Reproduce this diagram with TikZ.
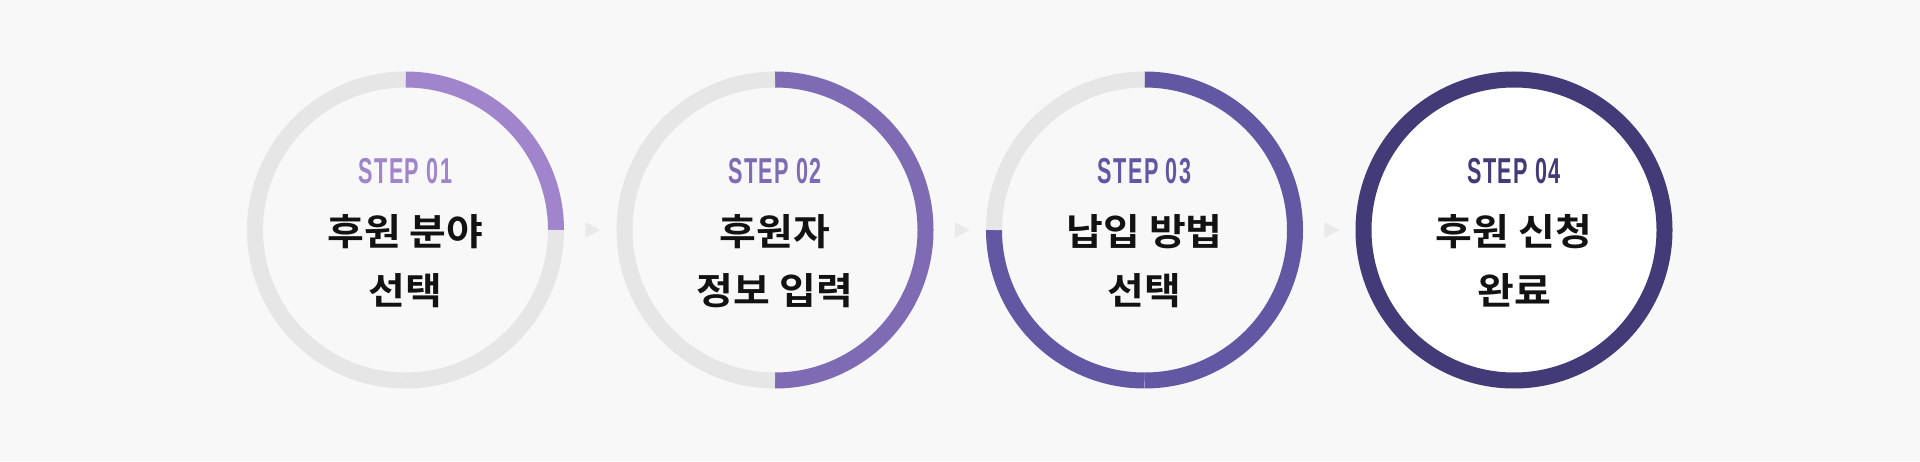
\documentclass[tikz,border=0pt]{standalone}
\usepackage{fontspec}
\newfontfamily\krfont[FakeStretch=1.08]{Noto Sans CJK KR Bold}
\newfontfamily\stepfont[FakeStretch=0.6, LetterSpace=4]{Liberation Sans Bold}
\usetikzlibrary{calc}
\definecolor{bgpage}{HTML}{F8F8F8}
\definecolor{ringgray}{HTML}{E6E6E6}
\definecolor{arrowgray}{HTML}{EAEAEA}
\definecolor{stepA}{HTML}{A084CC}
\definecolor{stepB}{HTML}{7F6BB3}
\definecolor{stepC}{HTML}{6257A3}
\definecolor{stepD}{HTML}{433A78}
\begin{document}
\begin{tikzpicture}[
  x=1pt, y=1pt,
  ring/.style={circle, minimum size=301pt, inner sep=0pt, outer sep=0pt},
  arc seg/.style={line width=16pt},
  steplbl/.style={font=\stepfont\fontsize{36}{36}\selectfont, anchor=base},
  title/.style={font=\krfont\fontsize{37}{37}\selectfont, text=black!93, anchor=base},
]
  \fill[bgpage] (0,0) rectangle (1920,461);
  \useasboundingbox (0,0) rectangle (1920,461);

  % rings: step no / x / quarters done / colour / inside
  \foreach \i/\xc/\m/\k/\inner in {1/405.5/1/stepA/bgpage, 2/775/2/stepB/bgpage,
                                   3/1144.5/3/stepC/bgpage, 4/1514/4/stepD/white} {
    \node[ring, fill=\inner] (ring\i) at (\xc,231) {};
    \foreach \q in {1,...,4} {
      \ifnum\q>\m \def\qcol{ringgray}\else \def\qcol{\k}\fi
      \draw[arc seg, \qcol] ($(ring\i.center)+({90-(\q-1)*90}:150.5)$)
        arc[start angle={90-(\q-1)*90}, delta angle=-90, radius=150.5];
    }
    \node[steplbl, text=\k] (lbl\i) at ($(ring\i)+(0,46.5)$) {STEP 0\i};
  }

  \foreach \i/\top/\bot in {1/후원 분야/선택, 2/후원자/정보 입력,
                           3/납입 방법/선택, 4/후원 신청/완료} {
    \node[title] (top\i) at ($(ring\i)+(0,-16)$) {\top};
    \node[title] (bot\i) at ($(ring\i)+(0,-74)$) {\bot};
  }

  % small arrows between the rings
  \foreach \i/\j in {1/2, 2/3, 3/4} {
    \coordinate (tri\i) at ($(ring\i)!0.5!(ring\j)+(2.5,0)$);
    \fill[arrowgray] ($(tri\i)+(-7.5,8)$) -- ++(15,-8) -- ++(-15,-8) -- cycle;
  }
\end{tikzpicture}
\end{document}
